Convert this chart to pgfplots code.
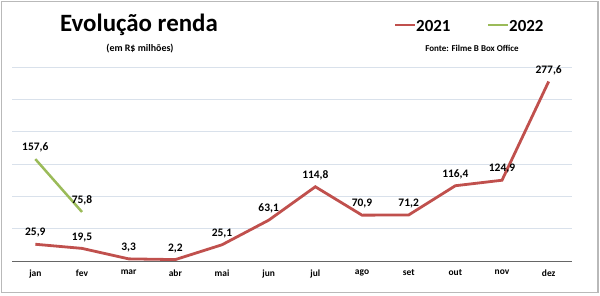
\documentclass[border=0pt]{standalone}
\usepackage{fontspec}
\setmainfont{Carlito}
\usepackage{pgfplots}
\pgfplotsset{compat=1.18}
\definecolor{red21}{RGB}{192,80,77}
\definecolor{green22}{RGB}{155,187,89}
\definecolor{gridc}{RGB}{217,225,235}
\begin{document}
\begin{tikzpicture}[x=1bp,y=1bp]
\path[use as bounding box] (0,0) rectangle (600,295);
\draw[gray!55, line width=1.2bp] (1.5,2.5) rectangle (598,293.5);
\begin{axis}[
  at={(12bp,34bp)}, anchor=south west,
  scale only axis, width=560bp, height=194bp,
  xmin=-0.5, xmax=11.5, ymin=0, ymax=300,
  xtick={0,...,11},
  xticklabels={jan,fev,mar,abr,mai,jun,jul,ago,set,out,nov,dez},
  ytick={0,50,...,300}, yticklabels={},
  major tick length=0pt,
  ymajorgrids, grid style={gridc, line width=0.8bp},
  axis x line*=bottom, axis y line*=left,
  y axis line style={draw=none},
  x axis line style={draw=gray!80!black, line width=0.8bp, -},
  tick label style={font=\bfseries\fontsize{9.5}{11}\selectfont},
  xticklabel style={yshift=-5bp},
  nodes near coords,
  every node near coord/.append style={font=\bfseries\fontsize{11.5}{13}\selectfont, black, yshift=2bp},
  /pgf/number format/.cd, fixed, fixed zerofill, precision=1, use comma,
  /pgf/number format/assume math mode=true,
  clip=false,
]
\addplot[red21, line width=2.8bp, mark=none] coordinates {
 (0,25.9) (1,19.5) (2,3.3) (3,2.2) (4,25.1) (5,63.1) (6,114.8) (7,70.9) (8,71.2) (9,116.4) (10,124.9) (11,277.6)};
\addplot[green22, line width=2.5bp, mark=none] coordinates {(0,157.6) (1,75.8)};
\end{axis}
\node[font=\bfseries\fontsize{25}{28}\selectfont, anchor=base] at (139,264) {Evolução renda};
\node[font=\bfseries\fontsize{10}{12}\selectfont, anchor=base] at (140,244) {(em R\$ milhões)};
\draw[red21, line width=2.8bp] (395,270) -- (415,270);
\node[font=\bfseries\fontsize{17}{20}\selectfont, anchor=base west, inner sep=0] at (416,264) {2021};
\draw[green22, line width=2.8bp] (488,270) -- (508,270);
\node[font=\bfseries\fontsize{17}{20}\selectfont, anchor=base west, inner sep=0] at (509,264) {2022};
\node[font=\bfseries\fontsize{9}{11}\selectfont, anchor=base] at (472,244) {Fonte: Filme B Box Office};
\end{tikzpicture}
\end{document}
